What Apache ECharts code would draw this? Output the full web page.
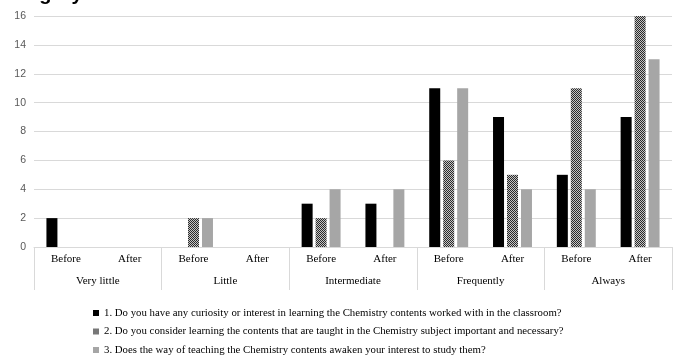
<!DOCTYPE html>
<html>
<head>
<meta charset="utf-8">
<script src="https://cdn.jsdelivr.net/npm/echarts@6/dist/echarts.min.js"></script>
<style>html,body{margin:0;padding:0;background:#fff;}#c{width:678px;height:359px;}</style>
</head>
<body>
<div id="c"></div>
<script>
var subCategories = ['Before','After','Before','After','Before','After','Before','After','Before','After'];
var groups = ['Very little','Little','Intermediate','Frequently','Always'];
var seriesNames = [
  '1. Do you have any curiosity or interest in learning the Chemistry contents worked with in the classroom?',
  '2. Do you consider learning the contents that are taught in the Chemistry subject important and necessary?',
  '3. Does the way of teaching the Chemistry contents awaken your interest to study them?'
];
var q1 = [2, 0, 0, 0, 3, 3, 11, 9, 5, 9];
var q2 = [0, 0, 2, 0, 2, 0, 6, 5, 11, 16];
var q3 = [0, 0, 2, 0, 4, 4, 11, 4, 4, 13];
var yTicks = [0, 16, 2];

function makePattern() {
  var c = document.createElement('canvas');
  c.width = 4; c.height = 4;
  var ctx = c.getContext('2d');
  ctx.fillStyle = '#c4c4c4';
  ctx.fillRect(0, 0, 4, 4);
  ctx.fillStyle = '#2a2a2a';
  for (var y = 0; y < 4; y++) for (var x = 0; x < 4; x++) {
    if ((x + y) % 2 === 0) ctx.fillRect(x, y, 1, 1);
  }
  return c;
}
var pat = makePattern();

var chart = echarts.init(document.getElementById('c'), null, {renderer: 'canvas'});
var serif = '"Liberation Serif", "Times New Roman", serif';
var mk = function (name, data, color) {
  return {
    name: name, type: 'bar', data: data, xAxisIndex: 0,
    barWidth: 11, barGap: '27%',
    itemStyle: {color: color}
  };
};
chart.setOption({
  animation: false,
  graphic: [{
    type: 'text', left: -4, top: -16,
    style: {text: 'Category', font: 'bold 20px "Liberation Sans", Arial, sans-serif', fill: '#000'}
  }],
  grid: {left: 34, right: 6, top: 16, bottom: 112, containLabel: false},
  legend: {
    orient: 'vertical', left: 88, top: 302, height: 60,
    itemWidth: 6, itemHeight: 6, itemGap: 6.5,
    icon: 'rect',
    textStyle: {fontFamily: serif, fontSize: 10.8, lineHeight: 12, color: '#000'},
    data: seriesNames
  },
  xAxis: [{
    type: 'category', data: subCategories, position: 'bottom',
    axisLine: {show: true, lineStyle: {color: '#d9d9d9', width: 1}},
    axisTick: {show: false},
    axisLabel: {interval: 0, margin: 7, fontFamily: serif, fontSize: 11, color: '#000'}
  }, {
    type: 'category', data: groups, position: 'bottom', offset: 0,
    axisLine: {show: false},
    axisTick: {show: true, length: 43, interval: 0, lineStyle: {color: '#d9d9d9', width: 1}},
    axisLabel: {interval: 0, margin: 29, fontFamily: serif, fontSize: 11, color: '#000'}
  }],
  yAxis: {
    type: 'value', min: yTicks[0], max: yTicks[1], interval: yTicks[2],
    axisLine: {show: false}, axisTick: {show: false},
    axisLabel: {margin: 8, fontSize: 10.5, color: '#595959', fontFamily: '"Liberation Sans", Arial, sans-serif'},
    splitLine: {lineStyle: {color: '#d9d9d9', width: 1}}
  },
  series: [
    mk(seriesNames[0], q1, '#000000'),
    mk(seriesNames[1], q2, {image: pat, repeat: 'repeat'}),
    mk(seriesNames[2], q3, '#a6a6a6')
  ]
});
</script>
</body>
</html>
